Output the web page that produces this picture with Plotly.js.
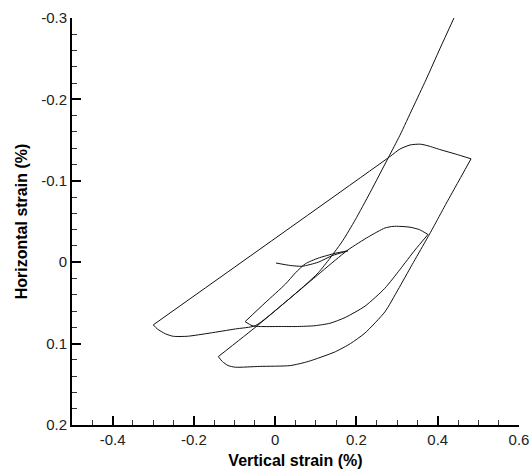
<!DOCTYPE html>
<html>
<head>
<meta charset="utf-8">
<script src="https://cdn.plot.ly/plotly-3.0.1.min.js"></script>
<style>
  html, body { margin: 0; padding: 0; background: #fff; }
  #chart { width: 530px; height: 474px; }
</style>
</head>
<body>
<div id="chart"></div>
<script>
// Vertical strain (%) / Horizontal strain (%) along the loading path, stage by stage
const stage1V = [0.002, 0.037, 0.066, 0.106, 0.140, 0.179];
const stage1H = [0.001, 0.004, 0.005, 0.000, -0.008, -0.014];

const stage2V = [0.179, 0.148, 0.106, 0.074, 0.050, 0.025, -0.025, -0.074];
const stage2H = [-0.014, -0.011, -0.005, 0.002, 0.013, 0.027, 0.050, 0.073];

const stage3V = [-0.074, -0.057, -0.037, 0.012, 0.055, 0.098, 0.135, 0.172, 0.221, 0.270, 0.307, 0.344, 0.376];
const stage3H = [0.073, 0.078, 0.079, 0.079, 0.079, 0.078, 0.075, 0.068, 0.054, 0.032, 0.009, -0.015, -0.034];

const stage4V = [0.376, 0.355, 0.332, 0.307, 0.290, 0.270, 0.229, 0.179, 0.061, -0.044, -0.140];
const stage4H = [-0.034, -0.040, -0.043, -0.044, -0.044, -0.042, -0.031, -0.015, 0.034, 0.078, 0.116];

const stage5V = [-0.140, -0.130, -0.116, -0.098, -0.037, 0.037, 0.081, 0.148, 0.185, 0.221, 0.270, 0.302, 0.337, 0.369, 0.386, 0.413, 0.443, 0.482];
const stage5H = [0.116, 0.122, 0.127, 0.129, 0.128, 0.127, 0.122, 0.110, 0.100, 0.087, 0.061, 0.034, 0.003, -0.025, -0.040, -0.065, -0.092, -0.127];

const stage6V = [0.482, 0.443, 0.408, 0.376, 0.357, 0.332, 0.307, 0.283, -0.300];
const stage6H = [-0.127, -0.133, -0.138, -0.143, -0.145, -0.144, -0.139, -0.130, 0.077];

const stage7V = [-0.300, -0.290, -0.270, -0.251, -0.216, -0.160, -0.098, -0.049, 0.025, 0.074, 0.106, 0.135, 0.167, 0.197, 0.234, 0.278, 0.307, 0.339, 0.371, 0.406, 0.440];
const stage7H = [0.077, 0.082, 0.088, 0.091, 0.091, 0.087, 0.082, 0.078, 0.049, 0.028, 0.013, -0.005, -0.027, -0.052, -0.086, -0.128, -0.156, -0.190, -0.224, -0.263, -0.300];

const xTickVals = [-0.4, -0.2, 0, 0.2, 0.4, 0.6];
const xTickText = ['-0.4', '-0.2', '0', '0.2', '0.4', '0.6'];
const yTickVals = [-0.3, -0.2, -0.1, 0, 0.1, 0.2];
const yTickText = ['-0.3', '-0.2', '-0.1', '0', '0.1', '0.2'];

const stagesV = [stage1V, stage2V, stage3V, stage4V, stage5V, stage6V, stage7V];
const stagesH = [stage1H, stage2H, stage3H, stage4H, stage5H, stage6H, stage7H];

const FONT = 'Liberation Sans, Arial, Helvetica, sans-serif';

const traces = stagesV.map((xs, i) => ({
  x: xs,
  y: stagesH[i],
  type: 'scatter',
  mode: 'lines',
  line: { color: '#111', width: 1, shape: 'spline', smoothing: 0.6 },
  hoverinfo: 'skip',
  showlegend: false
}));

const layout = {
  width: 530,
  height: 474,
  margin: { l: 72, r: 11, t: 18, b: 49 },
  paper_bgcolor: '#fff',
  plot_bgcolor: '#fff',
  font: { family: FONT, color: '#000', size: 15 },
  showlegend: false,
  xaxis: {
    range: [-0.5, 0.6],
    tickmode: 'array',
    tickvals: xTickVals,
    ticktext: xTickText,
    ticks: 'inside',
    ticklen: 9,
    tickwidth: 2,
    tickcolor: '#000',
    showline: true,
    linecolor: '#000',
    linewidth: 2,
    showgrid: false,
    zeroline: false,
    tickfont: { family: FONT, size: 15, color: '#222' },
    minor: { tickmode: 'linear', tick0: 0, dtick: 0.05, ticks: 'inside', ticklen: 5, tickwidth: 1, tickcolor: '#333', showgrid: false },
    title: { text: '<b>Vertical strain (%)</b>', font: { family: FONT, size: 16, color: '#000' }, standoff: 8 },
    automargin: false
  },
  yaxis: {
    range: [0.2, -0.3],
    tickmode: 'array',
    tickvals: yTickVals,
    ticktext: yTickText,
    ticks: 'inside',
    ticklen: 9,
    tickwidth: 2,
    tickcolor: '#000',
    showline: true,
    linecolor: '#000',
    linewidth: 2,
    showgrid: false,
    zeroline: false,
    tickfont: { family: FONT, size: 15, color: '#222' },
    minor: { tickmode: 'linear', tick0: 0, dtick: 0.02, ticks: 'inside', ticklen: 5, tickwidth: 1, tickcolor: '#333', showgrid: false },
    title: { text: '<b>Horizontal strain (%)</b>', font: { family: FONT, size: 16, color: '#000' }, standoff: 10 },
    automargin: false
  }
};

Plotly.newPlot('chart', traces, layout, { staticPlot: true, displayModeBar: false });
</script>
</body>
</html>
